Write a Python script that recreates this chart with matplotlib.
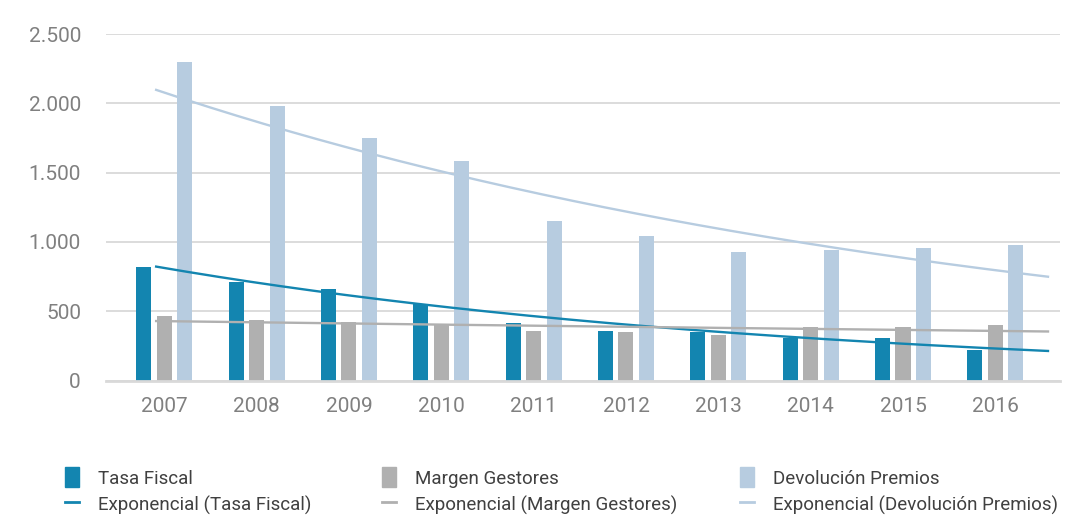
import numpy as np
import matplotlib.pyplot as plt
from matplotlib.patches import Rectangle
from matplotlib.lines import Line2D

plt.rcParams['font.family'] = ['Roboto', 'DejaVu Sans']

years = ["2007", "2008", "2009", "2010", "2011", "2012", "2013", "2014", "2015", "2016"]
tasa_fiscal = [819, 713, 660, 552, 415, 357, 352, 309, 309, 218]
margen_gestores = [465, 439, 420, 400, 359, 350, 328, 386, 386, 400]
devolucion_premios = [2298, 1980, 1750, 1584, 1151, 1043, 927, 941, 956, 978]

names = ["Tasa Fiscal", "Margen Gestores", "Devolución Premios"]
colors = ["#1385b0", "#b0b0b0", "#b7cce0"]
series = [tasa_fiscal, margen_gestores, devolucion_premios]

fig = plt.figure(figsize=(10.77, 5.16), dpi=100)
ax = fig.add_axes([106/1077, 1 - 380.5/516, 954/1077, 346.5/516])

x = np.arange(len(years))
w = 0.163
offsets = [-0.222, 0, 0.222]

for vals, off, c in zip(series, offsets, colors):
    ax.bar(x + off, vals, width=w, color=c, zorder=2)

# exponential trend lines (fit on ln y, like Excel)
xs = np.linspace(-0.087, 9.57, 200)
for vals, c in zip(series, colors):
    b, a = np.polyfit(x, np.log(vals), 1)
    ax.plot(xs, np.exp(a + b * xs), color=c, lw=1.7, zorder=3)

ax.set_xlim(-0.63, 9.70)
ax.set_ylim(0, 2500)
ax.set_yticks([0, 500, 1000, 1500, 2000, 2500])
ax.set_yticklabels(["0", "500", "1.000", "1.500", "2.000", "2.500"])
ax.set_xticks(x)
ax.set_xticklabels(years)
ax.tick_params(axis='y', length=0, pad=18, labelsize=15, labelcolor="#808080")
ax.tick_params(axis='x', length=0, pad=12, labelsize=15, labelcolor="#808080")
ax.grid(axis='y', color="#d9d9d9", lw=1.3, zorder=0)
for s in ["top", "right", "left"]:
    ax.spines[s].set_visible(False)
ax.spines["bottom"].set_color("#d9d9d9")
ax.spines["bottom"].set_linewidth(2)

# legend: three columns at fixed positions
legend_x = [65/1077, 382/1077, 740/1077]
for name, c, lx in zip(names, colors, legend_x):
    handles = [Rectangle((0, 0), 1, 1, color=c),
               Line2D([0], [0], color=c, lw=2)]
    labels = [name, "Exponencial (" + name + ")"]
    leg = fig.legend(handles, labels, loc="upper left", bbox_to_anchor=(lx, 1 - 467/516),
                     frameon=False, fontsize=13.5, handlelength=0.75, handleheight=1.3,
                     handletextpad=1.0, labelspacing=0.35, borderaxespad=0,
                     borderpad=0)
    for t in leg.get_texts():
        t.set_color("#404040")

fig.savefig("out.png", dpi=100)
